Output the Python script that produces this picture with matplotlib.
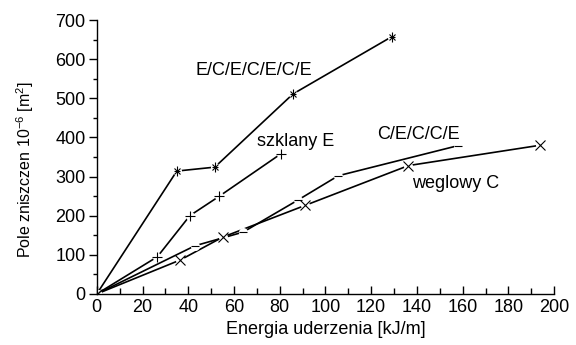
import matplotlib
matplotlib.use("Agg")
import matplotlib.pyplot as plt
from matplotlib.ticker import MultipleLocator

plt.rcParams['font.family'] = ['Liberation Sans', 'DejaVu Sans']
plt.rcParams['mathtext.fontset'] = 'custom'
plt.rcParams['mathtext.rm'] = 'Liberation Sans'
plt.rcParams['mathtext.it'] = 'Liberation Sans:italic'
plt.rcParams['mathtext.bf'] = 'Liberation Sans:bold'

# Data (x: energy kJ/m, y: damage area 1e-6 m^2)
x_ecec = [0, 35, 51.6, 85.8, 128.9]
y_ecec = [0, 314, 324, 511, 657]

x_szkl = [0, 26.5, 40.7, 53.4, 80.5]
y_szkl = [0, 95, 200, 249, 358]

x_cecce = [0, 42.9, 64, 88, 105.6, 158]
y_cecce = [0, 123, 158, 240, 302, 379]

x_wegl = [0, 36.6, 55, 91, 136.3, 193.9]
y_wegl = [0, 87, 145, 226, 328, 380]

labels = ["E/C/E/C/E/C/E", "szklany E", "C/E/C/C/E", "weglowy C"]

fig = plt.figure(figsize=(5.76, 3.45), dpi=100)
ax = fig.add_axes([0.168, 0.148, 0.794, 0.794])

series = [
    (x_ecec, y_ecec, 'x', 5),
    (x_szkl, y_szkl, '+', 7),
    (x_cecce, y_cecce, '_', 6),
    (x_wegl, y_wegl, 'x', 7),
]
for xs, ys, m, ms in series:
    ax.plot(xs, ys, color='black', lw=1.2, zorder=2)
    ax.plot(xs, ys, ls='none', marker='o', ms=6.5, mfc='white', mec='none', zorder=3)
    ax.plot(xs, ys, ls='none', marker=m, ms=ms, mew=0.8, color='black', zorder=4)

# asterisk for the E/C series: add vertical stroke and horizontal stroke
ax.plot(x_ecec, y_ecec, ls='none', marker='|', ms=7, mew=0.8, color='black', zorder=4)
ax.plot(x_ecec, y_ecec, ls='none', marker='_', ms=4, mew=0.8, color='black', zorder=4)

fs = 13
ax.annotate(labels[0], xy=(68.5, 572), ha='center', va='center', fontsize=fs)
ax.annotate(labels[1], xy=(87, 389), ha='center', va='center', fontsize=fs)
ax.annotate(labels[2], xy=(140.5, 408), ha='center', va='center', fontsize=fs)
ax.annotate(labels[3], xy=(157, 283), ha='center', va='center', fontsize=fs)

ax.set_xlim(0, 200)
ax.set_ylim(0, 700)
ax.spines['top'].set_visible(False)
ax.spines['right'].set_visible(False)
ax.spines['left'].set_linewidth(1.0)
ax.spines['bottom'].set_linewidth(1.0)

ax.xaxis.set_major_locator(MultipleLocator(20))
ax.xaxis.set_minor_locator(MultipleLocator(10))
ax.yaxis.set_major_locator(MultipleLocator(100))
ax.yaxis.set_minor_locator(MultipleLocator(50))
ax.tick_params(axis='x', which='major', direction='in', length=6, width=1.0, labelsize=fs, pad=4)
ax.tick_params(axis='x', which='minor', direction='in', length=4, width=1.0)
ax.tick_params(axis='y', which='major', direction='out', length=6, width=1.0, labelsize=fs, pad=2)
ax.tick_params(axis='y', which='minor', direction='out', length=3, width=1.0)

ax.set_xlabel("Energia uderzenia [kJ/m]", fontsize=fs, labelpad=3)
ax.set_ylabel("Pole zniszczen 10$^{-6}$ [m$^{2}$]", fontsize=11.5,
              family=['Liberation Sans Narrow', 'Liberation Sans', 'DejaVu Sans'])
ax.yaxis.set_label_coords(-0.132, 0.453)

fig.savefig("out.png", dpi=100)
